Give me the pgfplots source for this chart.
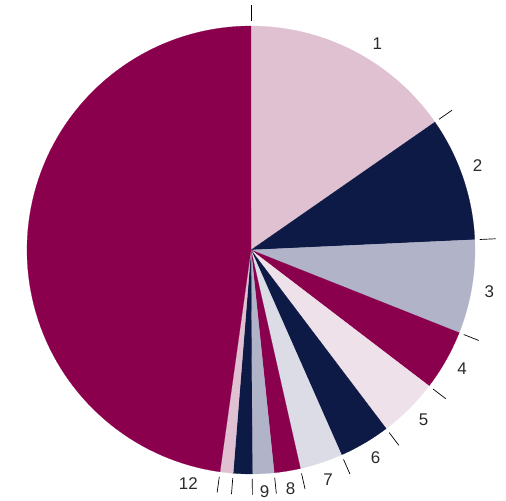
\documentclass[border=0pt]{standalone}
\usepackage{pgfplots}
\pgfplotsset{compat=1.18}
\usepackage{pgfplotstable}
\usepackage{fontspec}
\setmainfont{Liberation Sans}
\definecolor{pinkA}{HTML}{DFC1D1}
\definecolor{navy}{HTML}{0C1A45}
\definecolor{lav}{HTML}{B1B3C8}
\definecolor{mag}{HTML}{8A004D}
\definecolor{pinkB}{HTML}{EEE1E9}
\definecolor{grayL}{HTML}{DCDCE6}
\definecolor{labgray}{HTML}{2A2A2A}

% value = percent of the pie, labang = angle (clockwise from top) of the label
\pgfplotstableread{
idx value col labang show
1 15.33 pinkA 31.5 1
2 8.94 navy 69.5 1
3 6.75 lav 100 1
4 4.36 mag 119.3 1
5 4.31 pinkB 134.5 1
6 3.69 navy 149 1
7 3.08 grayL 161.4 1
8 1.89 mag 170.6 1
9 1.56 lav 176.8 1
10 1.36 navy 0 0
11 0.94 pinkA 0 0
12 47.79 mag 195 1
}\piedata

\begin{document}
\begin{tikzpicture}
\begin{axis}[scale only axis, width=506bp, height=500bp,
  xmin=0, xmax=506, ymin=0, ymax=500, hide axis, clip=false]
\path (rel axis cs:0,0) rectangle (rel axis cs:1,1);
\pgfmathsetmacro{\cumsum}{0}
% tick at the top
\addplot[black, line width=0.7pt] coordinates {(251,479) (251,495)};
\pgfplotsforeachungrouped \i in {0,...,11}{%
  \pgfplotstablegetelem{\i}{value}\of\piedata \let\myval\pgfplotsretval
  \pgfplotstablegetelem{\i}{col}\of\piedata \let\mycol\pgfplotsretval
  \pgfplotstablegetelem{\i}{labang}\of\piedata \let\mylab\pgfplotsretval
  \pgfplotstablegetelem{\i}{show}\of\piedata \let\myshow\pgfplotsretval
  \pgfplotstablegetelem{\i}{idx}\of\piedata \let\myidx\pgfplotsretval
  \pgfmathsetmacro{\angA}{\cumsum*3.6}%
  \pgfmathsetmacro{\cumsum}{\cumsum+\myval}%
  \pgfmathsetmacro{\angB}{\cumsum*3.6}%
  \edef\cmd{\noexpand\addplot[draw=\mycol, line width=0.2pt, fill=\mycol, domain=\angA:\angB, samples=90, variable=\noexpand\t]
    ({251+224*sin(\noexpand\t)}, {250+224*cos(\noexpand\t)}) -- (axis cs:251,250) -- cycle;}%
  \cmd
  \pgfmathsetmacro{\txa}{251+229*sin(\angB)}%
  \pgfmathsetmacro{\tya}{250+229*cos(\angB)}%
  \pgfmathsetmacro{\txb}{251+245*sin(\angB)}%
  \pgfmathsetmacro{\tyb}{250+245*cos(\angB)}%
  \edef\cmd{\noexpand\addplot[black, line width=0.7pt] coordinates {(\txa,\tya) (\txb,\tyb)};}%
  \cmd
  \ifnum\myshow=1
    \pgfmathsetmacro{\lx}{251+242*sin(\mylab)}%
    \pgfmathsetmacro{\ly}{250+242*cos(\mylab)}%
    \edef\cmd{\noexpand\node[text=labgray, font=\noexpand\fontsize{17}{20}\noexpand\selectfont] at (axis cs:\lx,\ly) {\myidx};}%
    \cmd
  \fi
}
\end{axis}
\end{tikzpicture}
\end{document}
